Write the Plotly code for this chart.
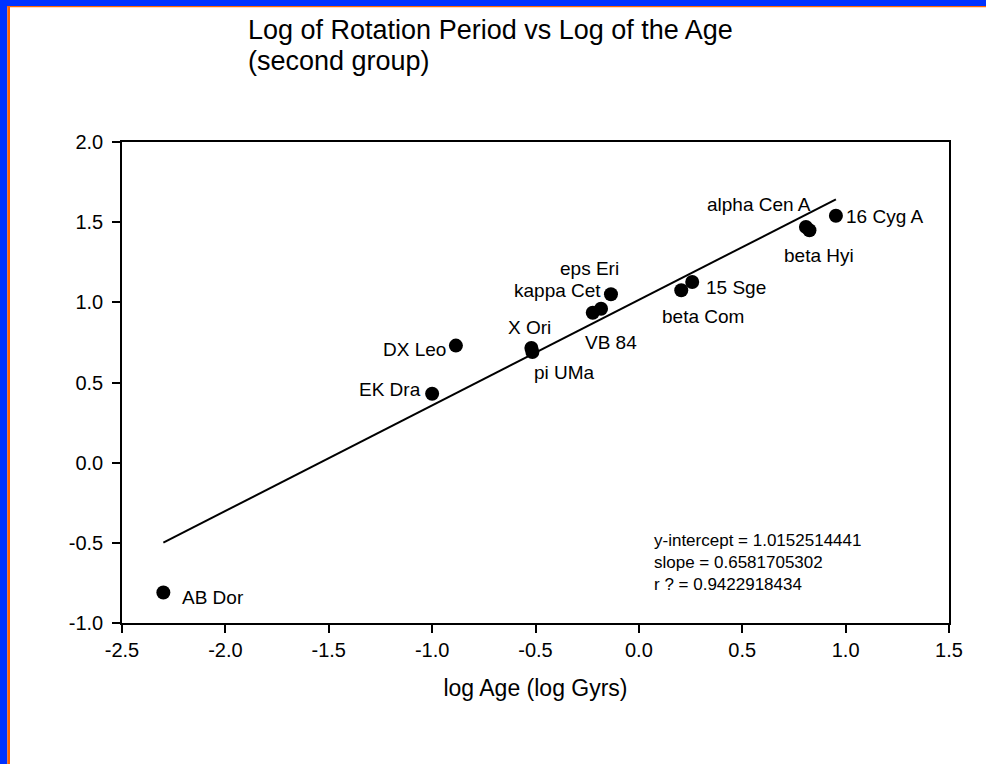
import plotly.graph_objects as go

# star data (log age in log Gyrs, log rotation period)
stars = ['AB Dor', 'EK Dra', 'DX Leo', 'X Ori', 'pi UMa', 'VB 84', 'kappa Cet',
         'eps Eri', 'beta Com', '15 Sge', 'alpha Cen A', 'beta Hyi', '16 Cyg A']
log_age = [-2.30, -1.00, -0.885, -0.52, -0.515, -0.223, -0.183,
           -0.135, 0.205, 0.258, 0.808, 0.825, 0.953]
log_period = [-0.81, 0.43, 0.73, 0.715, 0.69, 0.935, 0.96,
              1.05, 1.075, 1.127, 1.47, 1.45, 1.54]

# regression results printed on the chart
intercept = 1.0152514441
slope = 0.6581705302
r_value = 0.9422918434

x_ticks = [-2.5, -2.0, -1.5, -1.0, -0.5, 0.0, 0.5, 1.0, 1.5]
x_ticktext = ['-2.5', '-2.0', '-1.5', '-1.0', '-0.5', '0.0', '0.5', '1.0', '1.5']
y_ticks = [-1.0, -0.5, 0.0, 0.5, 1.0, 1.5, 2.0]
y_ticktext = ['-1.0', '-0.5', '0.0', '0.5', '1.0', '1.5', '2.0']

title_lines = ['Log of Rotation Period vs Log of the Age', '(second group)']

FONT = 'Liberation Sans, Arial, sans-serif'

# label placement per star: (xanchor, xshift, yshift)
label_pos = {
    'AB Dor': ('left', 17, -5),
    'EK Dra': ('right', -9, 4),
    'DX Leo': ('right', -8, -4),
    'X Ori': ('center', -2, 21),
    'pi UMa': ('left', 0, -20),
    'VB 84': ('left', -10, -30),
    'kappa Cet': ('right', 2, 18),
    'eps Eri': ('center', -21, 26),
    'beta Com': ('center', 22, -26),
    '15 Sge': ('left', 12, -6),
    'alpha Cen A': ('right', 7, 22),
    'beta Hyi': ('center', 10, -25),
    '16 Cyg A': ('left', 8, -1),
}

fig = go.Figure()

x_line = [min(log_age), max(log_age)]
y_line = [intercept + slope * v for v in x_line]
fig.add_trace(go.Scatter(x=x_line, y=y_line, mode='lines',
                         line=dict(color='black', width=2), hoverinfo='skip'))

fig.add_trace(go.Scatter(x=log_age, y=log_period, mode='markers', text=stars,
                         marker=dict(color='black', size=14, line=dict(width=0))))

for name, xv, yv in zip(stars, log_age, log_period):
    anchor, dx, dy = label_pos[name]
    fig.add_annotation(x=xv, y=yv, text=name, showarrow=False,
                       xanchor=anchor, yanchor='middle', xshift=dx, yshift=dy,
                       font=dict(size=19, color='black', family=FONT))

# regression text block
stats_text = '<br>'.join([f'y-intercept = {intercept:.10f}',
                          f'slope = {slope:.10f}',
                          f'r ? = {r_value:.10f}'])
fig.add_annotation(x=0.063, y=-0.62, text=stats_text, showarrow=False,
                   xanchor='left', yanchor='middle', align='left',
                   font=dict(size=17, color='black', family=FONT))

# two-line title, lines set a bit tighter than plotly's <br> spacing
for i, line in enumerate(title_lines):
    fig.add_annotation(xref='paper', yref='paper', x=0.1495, y=1.232 - 0.0634 * i,
                       text=line, showarrow=False, xanchor='left', yanchor='middle',
                       font=dict(size=27, color='black', family=FONT))

# blue / orange frame on the top and left edges
# pixel offsets from the plot's top-left corner (x right, y up)
frame = [
    (-132, 878, 136, 152, '#0033FF'),
    (-132, -114.7, -658, 152, '#0033FF'),
    (-114.7, 878, 134.7, 136, '#FF6600'),
    (-114.7, -112, -658, 136, '#FF6600'),
]
for x0, x1, y0, y1, c in frame:
    fig.add_shape(type='rect', xref='paper', yref='paper',
                  xsizemode='pixel', ysizemode='pixel', xanchor=0, yanchor=1,
                  x0=x0, x1=x1, y0=y0, y1=y1,
                  fillcolor=c, line=dict(width=0), layer='above')

axis_common = dict(showline=True, linecolor='black', linewidth=1.5, mirror=True,
                   ticks='outside', ticklen=8, tickwidth=1.5, tickcolor='black',
                   showgrid=False, zeroline=False,
                   tickfont=dict(size=20, color='black', family=FONT))

fig.update_xaxes(range=[-2.5, 1.5], tickvals=x_ticks, ticktext=x_ticktext,
                 title=dict(text='log Age (log Gyrs)', standoff=20,
                            font=dict(size=23, color='black', family=FONT)),
                 **axis_common)
fig.update_yaxes(range=[-1.0, 2.0], tickvals=y_ticks, ticktext=y_ticktext,
                 ticklabelstandoff=5, **axis_common)

fig.update_layout(
    width=986, height=764,
    margin=dict(l=122, r=37, t=142, b=141),
    paper_bgcolor='white', plot_bgcolor='white',
    showlegend=False,
    font=dict(family=FONT, color='black'),
)

# drop the browser's default body margin so the figure sits at the page corner
fig.write_html('out.html', config={'displayModeBar': False},
               post_script="document.body.style.margin='0';")
